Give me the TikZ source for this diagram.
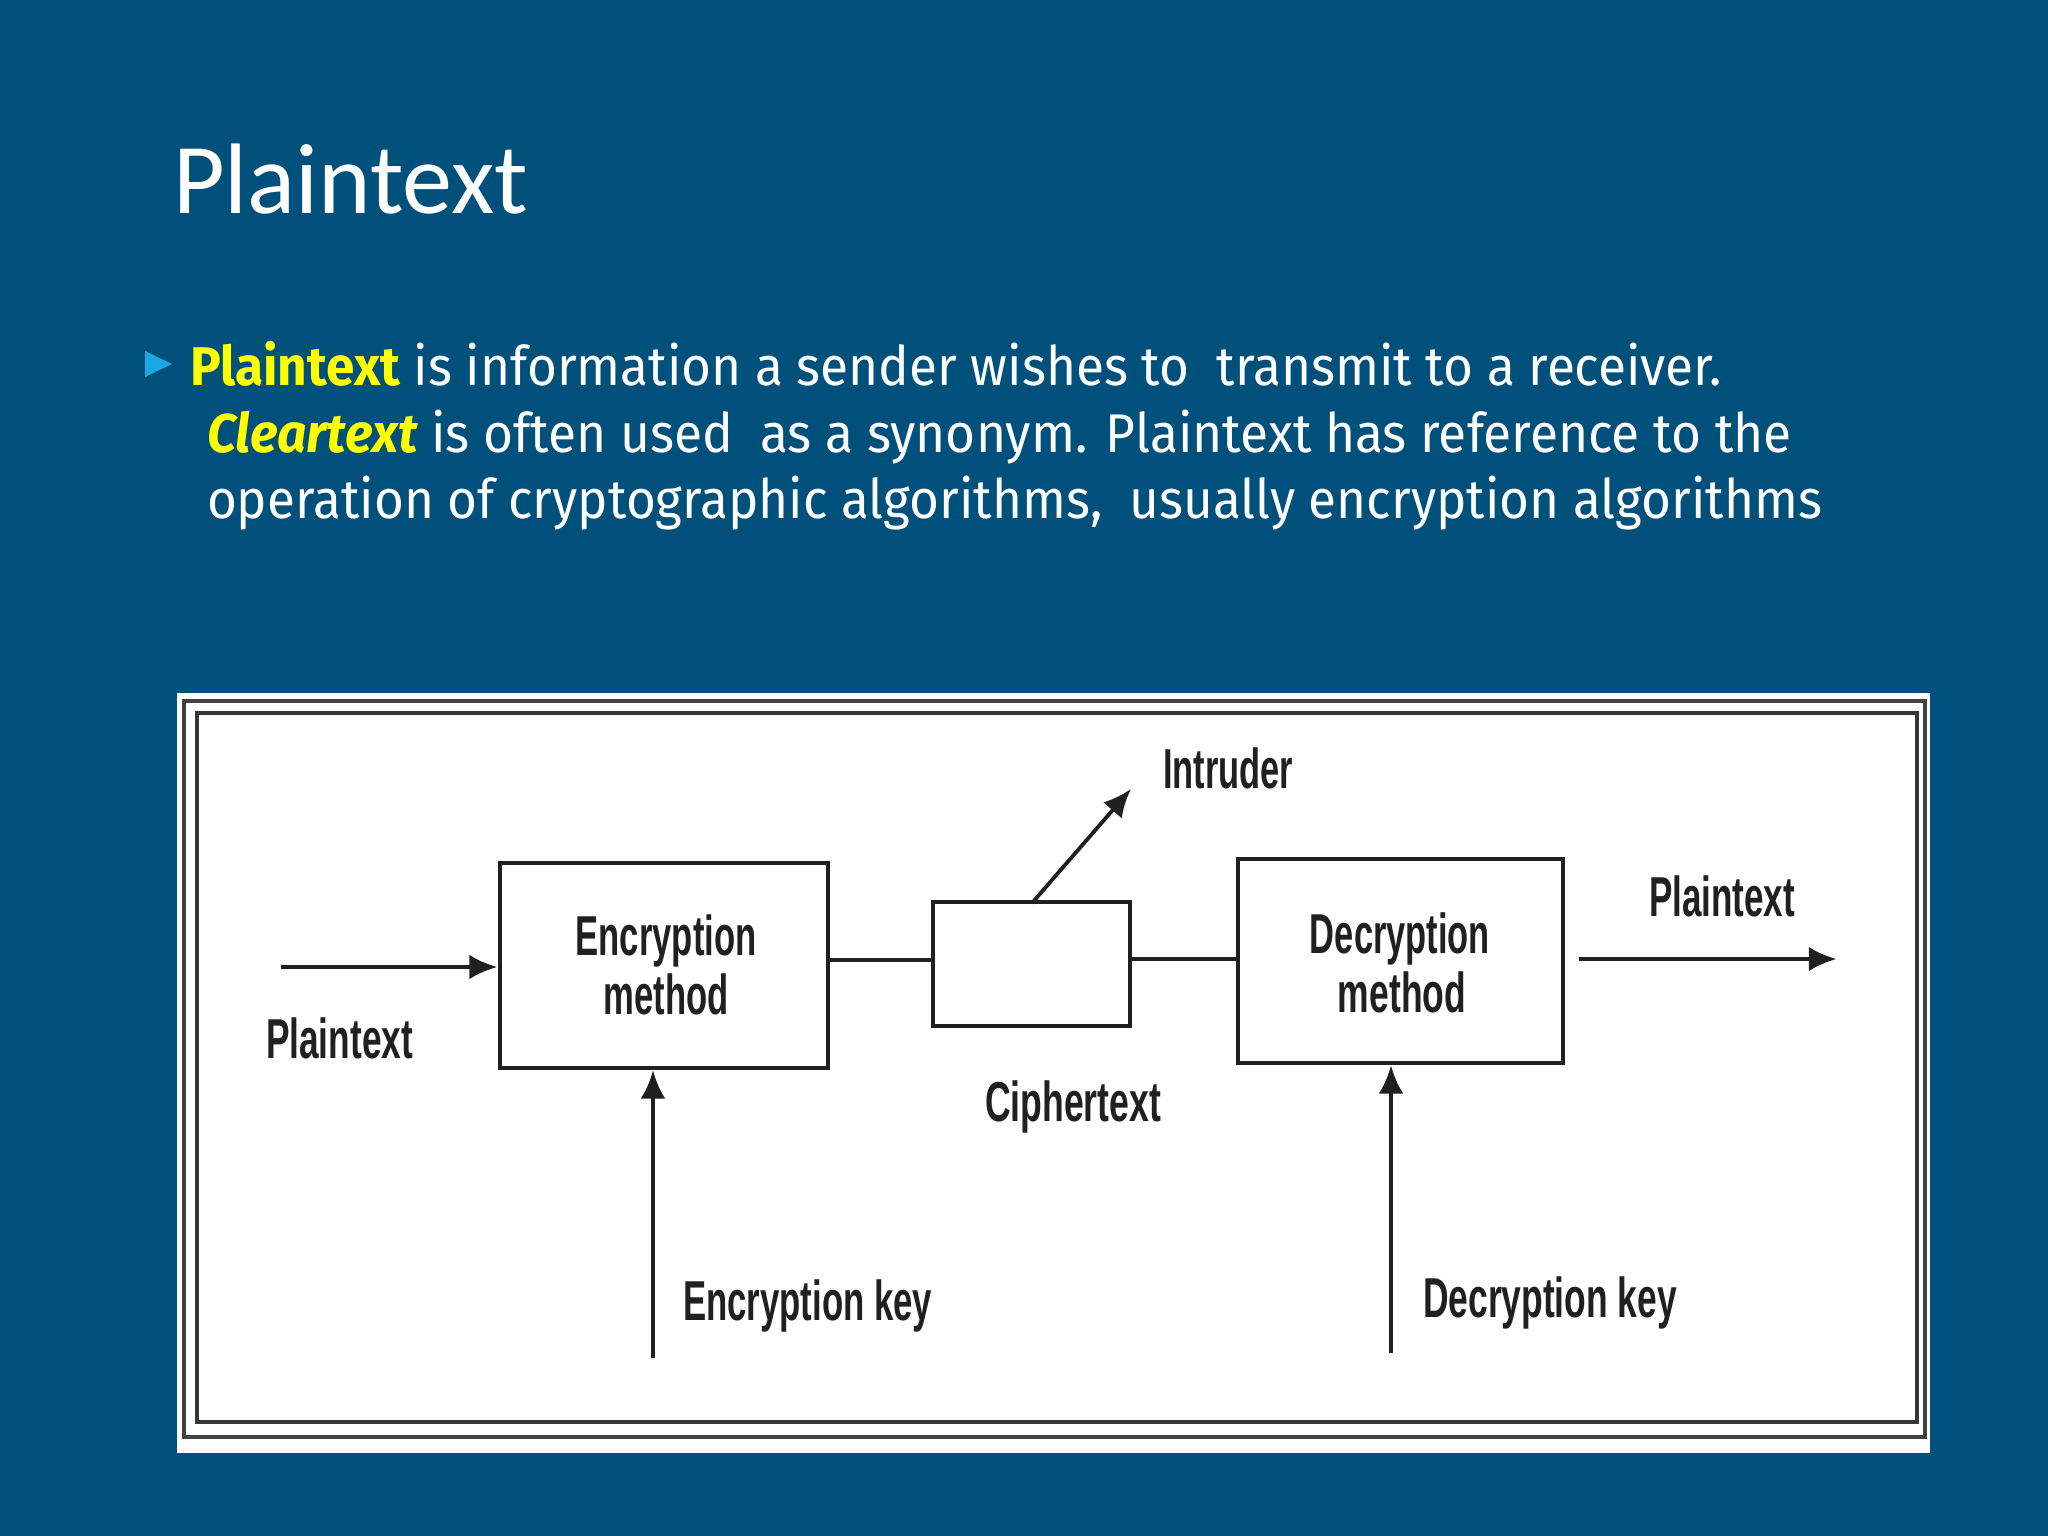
\documentclass[tikz,border=0pt]{standalone}
\usepackage{fontspec}
\usepackage{graphicx}
\setmainfont{Fira Sans}
\newfontfamily\titlefont{Carlito}
\newfontfamily\diagfont{Liberation Sans}
\usetikzlibrary{arrows.meta}
\definecolor{bg}{HTML}{00507C}
\definecolor{hl}{HTML}{FFFF00}
\definecolor{bul}{HTML}{1BA9E3}
\definecolor{ink}{HTML}{202020}
\newcommand\fitw[2]{\resizebox{#1}{\height}{#2}}
\tikzset{
  txt/.style={anchor=base west, inner sep=0pt, outer sep=0pt},
  lab/.style={anchor=base west, inner sep=0pt, outer sep=0pt, text=ink,
    font=\diagfont\bfseries\fontsize{16}{18}\selectfont},
  clab/.style={anchor=base, inner sep=0pt, outer sep=0pt, text=ink,
    font=\diagfont\bfseries\fontsize{16}{18}\selectfont},
  blk/.style={draw=ink, line width=4.6pt*0.2845, fill=white, inner sep=0pt},
  wire/.style={draw=ink, line width=4.6pt*0.2845},
  arr/.style={draw=ink, line width=3.8pt*0.2845, -{Latex[length=8pt,width=7pt]}},
}
\begin{document}
\begin{tikzpicture}[x=0.01cm,y=-0.01cm]
\fill[bg] (0,0) rectangle (2048,1536);
\useasboundingbox (0,0) rectangle (2048,1536);

% title
\node[txt, text=white, font=\titlefont\fontsize{28.5}{34}\selectfont] (title) at (173,213)
  {\fitw{3.55cm}{Plaintext}};

% bullet
\fill[bul] (145,351) -- (172,364) -- (145,377) -- cycle;

% body text
\node[txt, text=white, font=\fontsize{15.5}{19}\selectfont] (l1) at (190,385)
  {\fitw{15.31cm}{\textcolor{hl}{\bfseries Plaintext} is information a sender wishes to\ \ transmit to a receiver.}};
\node[txt, text=white, font=\fontsize{15.5}{19}\selectfont] (l2) at (207,452)
  {\fitw{15.84cm}{\textcolor{hl}{\bfseries\itshape Cleartext} is often used\ \ as a synonym. Plaintext has reference to the}};
\node[txt, text=white, font=\fontsize{15.5}{19}\selectfont] (l3) at (207,518)
  {\fitw{16.14cm}{operation of cryptographic algorithms,\ \ usually encryption algorithms}};

% diagram panel
\fill[white] (177,693) rectangle (1930,1453);
\draw[ink!85, line width=1.3pt] (184,701) rectangle (1925,1437);
\draw[ink!90, line width=1.4pt] (197,713) rectangle (1917,1422);

% blocks
\node[blk, minimum width=3.28cm, minimum height=2.05cm] (enc) at (664,965.5) {};
\node[blk, minimum width=1.97cm, minimum height=1.24cm] (cip) at (1031.5,964) {};
\node[blk, minimum width=3.25cm, minimum height=2.04cm] (dec) at (1400.5,961) {};

% coordinates for free ends
\coordinate (pin) at (281,967);
\coordinate (pout) at (1837,959);
\coordinate (dout) at (1579,959);
\coordinate (intr) at (1131,789);
\coordinate (cipt) at (1032,903);
\coordinate (ekey) at (653,1358);
\coordinate (dkey) at (1391,1353);

% connectors
\draw[arr, line width=4.4pt*0.2845] (pin) -- (pin -| enc.west);
\draw[wire] (enc.east |- 0,960) -- (cip.west |- 0,960);
\draw[wire] (cip.east |- 0,959) -- (dec.west |- 0,959);
\draw[arr, line width=4.8pt*0.2845] (dout) -- (pout);
\draw[arr] (cipt) -- (intr);
\draw[arr] (ekey) -- (ekey |- enc.south);
\draw[arr] (dkey) -- (dkey |- dec.south);

% labels
\node[lab] (lintr) at (1163,788) {\fitw{1.30cm}{Intruder}};
\node[lab] (lpin) at (266,1058) {\fitw{1.47cm}{Plaintext}};
\node[lab] (lpout) at (1649,916) {\fitw{1.46cm}{Plaintext}};
\node[clab] (lenc1) at (666,955) {\fitw{1.81cm}{Encryption}};
\node[clab] (lenc2) at (666,1014) {\fitw{1.25cm}{method}};
\node[clab] (ldec1) at (1400,953) {\fitw{1.80cm}{Decryption}};
\node[clab] (ldec2) at (1402,1012) {\fitw{1.28cm}{method}};
\node[lab] (lcip) at (985,1121) {\fitw{1.76cm}{Ciphertext}};
\node[lab] (lekey) at (683,1320) {\fitw{2.49cm}{Encryption key}};
\node[lab] (ldkey) at (1423,1317) {\fitw{2.54cm}{Decryption key}};
\end{tikzpicture}
\end{document}
